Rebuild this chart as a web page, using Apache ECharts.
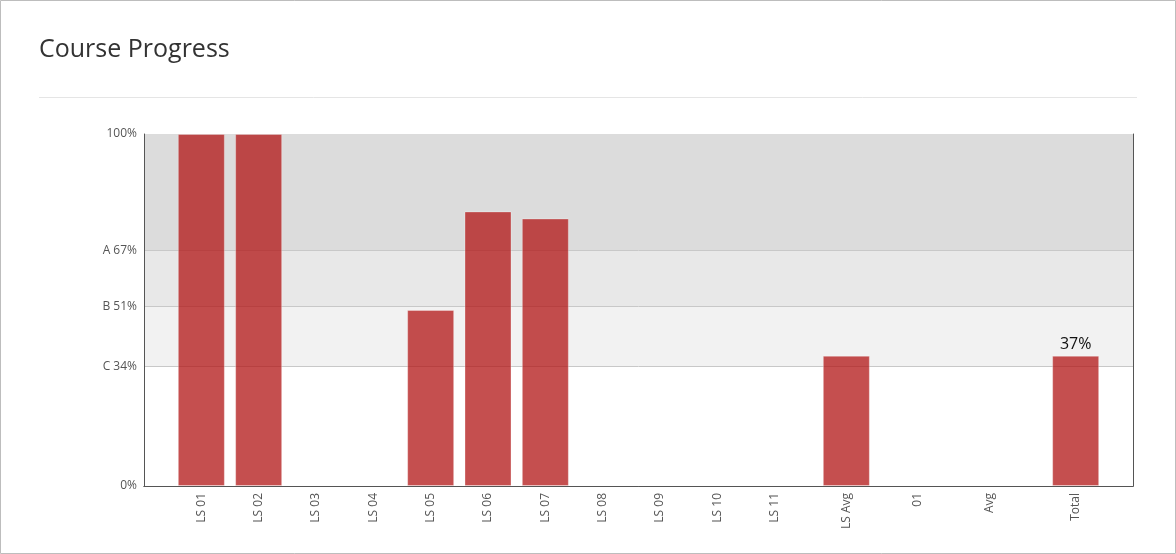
<!DOCTYPE html>
<html>
<head>
<meta charset="utf-8">
<script src="https://cdn.jsdelivr.net/npm/echarts@6/dist/echarts.min.js"></script>
<style>
  html, body { margin: 0; padding: 0; background: #fff; }
  #chart { width: 1176px; height: 554px; }
</style>
</head>
<body>
<div id="chart"></div>
<script>
// ---- data ----
const categories = ['LS 01','LS 02','LS 03','LS 04','LS 05','LS 06','LS 07','LS 08','LS 09','LS 10','LS 11','LS Avg','01','Avg','Total'];
const progress   = [100, 100, 0, 0, 50, 78, 76, 0, 0, 0, 0, 37, 0, 0, 37];
const labelledCategories = ['Total'];
const yTickValues = [0, 34, 51, 67, 100];
const yTickLabels = ['0%', 'C 34%', 'B 51%', 'A 67%', '100%'];
const gradeBands  = [[34, 51], [51, 67], [67, 100]];
const gradeLines  = [34, 51, 67];

// ---- layout (spacing of category slots on the axis) ----
const slotSteps = [4,4,4,4,4,4,4,4,4,4,4,5,5,5,6];
const trailingSlots = 4;
const bandColors = ['#f2f2f2', '#e8e8e8', '#dcdcdc'];

let pos = 0;
const slotOf = slotSteps.map(s => (pos += s));
const slotCount = pos + trailingSlots + 1;
const axisNames = new Array(slotCount).fill('');
const barData = new Array(slotCount).fill('-');
categories.forEach((c, i) => { axisNames[slotOf[i]] = c; barData[slotOf[i]] = progress[i]; });

const FONT = "'Open Sans', 'Noto Sans', sans-serif";
const chart = echarts.init(document.getElementById('chart'), null, { renderer: 'canvas' });

chart.setOption({
  animation: false,
  backgroundColor: '#ffffff',
  textStyle: { fontFamily: FONT },
  title: {
    text: 'Course Progress',
    left: 34, top: 32,
    textStyle: { fontFamily: FONT, fontSize: 25, fontWeight: 'normal', color: '#333' }
  },
  graphic: [
    { type: 'rect', shape: { x: 0.5, y: 0.5, width: 1175, height: 553 },
      style: { fill: 'none', stroke: '#bdbdbd', lineWidth: 1 }, silent: true },
    { type: 'line', shape: { x1: 39, y1: 97.5, x2: 1137, y2: 97.5 },
      style: { stroke: '#e5e5e5', lineWidth: 1 }, silent: true }
  ],
  grid: { left: 144, right: 43, top: 134, bottom: 68, containLabel: false },
  xAxis: [
    {
      type: 'category', data: axisNames, boundaryGap: false, position: 'bottom', z: 10,
      axisLine: { show: true, lineStyle: { color: '#555', width: 1 } },
      axisTick: { show: false },
      splitLine: { show: false },
      axisLabel: { interval: 0, rotate: 90, margin: 7, fontSize: 12, color: '#555', fontFamily: FONT }
    },
    {
      type: 'category', data: axisNames, boundaryGap: false, position: 'top', z: 10,
      axisLine: { show: true, lineStyle: { color: '#555', width: 1 } },
      axisTick: { show: false }, axisLabel: { show: false }, splitLine: { show: false }
    }
  ],
  yAxis: [
    {
      type: 'value', min: 0, max: 100, position: 'left', z: 10,
      axisLine: { show: true, lineStyle: { color: '#555', width: 1 } },
      axisTick: { show: false },
      splitLine: { show: false },
      axisLabel: {
        customValues: yTickValues,
        margin: 7, fontSize: 12, color: '#555', fontFamily: FONT,
        formatter: v => { const i = yTickValues.indexOf(v); return i >= 0 ? yTickLabels[i] : ''; }
      }
    },
    {
      type: 'value', min: 0, max: 100, position: 'right', z: 10,
      axisLine: { show: true, lineStyle: { color: '#555', width: 1 } },
      axisTick: { show: false }, axisLabel: { show: false }, splitLine: { show: false }
    }
  ],
  series: [
    {
      type: 'line', data: barData.map(() => '-'), z: 1, silent: true,
      markArea: {
        silent: true,
        data: gradeBands.map((b, i) => [
          { yAxis: b[0], itemStyle: { color: bandColors[i] } },
          { yAxis: b[1] }
        ])
      },
      markLine: {
        silent: true, symbol: ['none', 'none'],
        label: { show: false },
        lineStyle: { color: '#c8c8c8', type: 'solid', width: 1 },
        data: gradeLines.map(v => ({ yAxis: v }))
      }
    },
    {
      type: 'bar', data: barData, barWidth: 47, z: 5,
      itemStyle: { color: 'rgba(178, 20, 20, 0.75)', borderColor: 'rgba(255,255,255,0.3)', borderWidth: 1 },
      label: {
        show: true, position: 'top', distance: 3,
        fontSize: 16, color: '#111', fontFamily: FONT,
        formatter: p => labelledCategories.includes(p.name) ? p.value + '%' : ''
      }
    }
  ]
});
</script>
</body>
</html>
